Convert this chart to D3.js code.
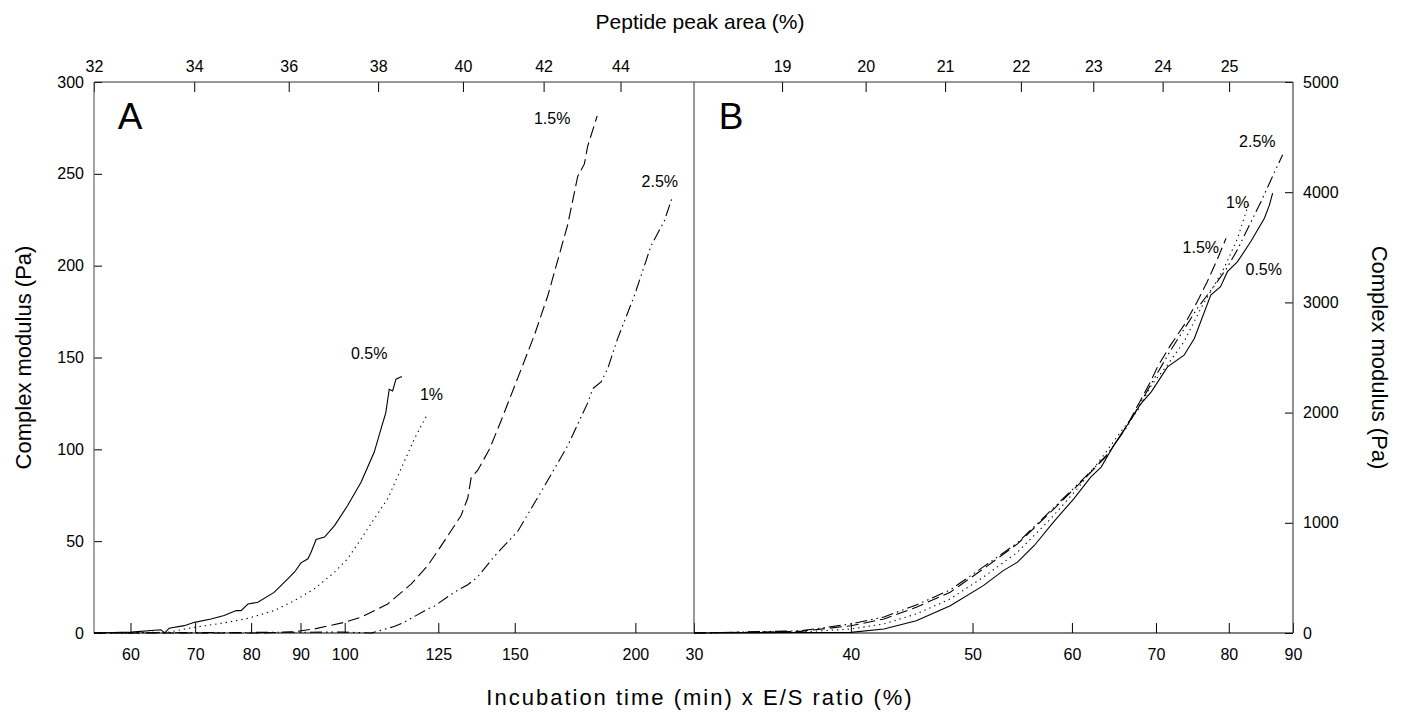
<!DOCTYPE html>
<html>
<head>
<meta charset="utf-8">
<script src="https://cdn.jsdelivr.net/npm/d3@7"></script>
<style>
  html, body { margin: 0; padding: 0; background: #fff; }
  svg { display: block; font-family: "Liberation Sans", Arial, sans-serif; }
</style>
</head>
<body>
<svg id="chart" width="1404" height="715"></svg>
<script>
// ---------- DATA ----------
// Panel A (x: incubation time x E/S ratio, y: complex modulus Pa)
const a05X = [55, 60.1, 64.5, 65.1, 65.8, 68.2, 69.9, 72.7, 75.0, 77.2, 78.1, 79.4, 81.3, 84.5, 87.3, 88.7, 90.1, 91.6, 92.3, 93.4, 95.3, 97.6, 100.7, 104.0, 107.3, 109.0, 110.3, 111.2, 112.1, 113.0, 114.6];
const a05Y = [0, 0.5, 1.8, 0, 2.6, 4.0, 5.8, 7.6, 9.5, 12.2, 12.2, 15.8, 16.7, 22.1, 29.5, 33.1, 38.2, 40.4, 44.0, 50.9, 52.2, 58.5, 69.4, 82.2, 98.5, 110.9, 120.0, 132.7, 131.8, 138.2, 139.6];
const a1X = [55, 65.6, 69.9, 75.6, 79.4, 84.5, 88.7, 93.0, 97.6, 100.7, 104.0, 107.3, 110.8, 114.4, 118.1, 121.9];
const a1Y = [0, 0.4, 3.1, 5.8, 8.0, 12.2, 17.6, 24.0, 33.1, 40.4, 51.3, 62.2, 73.1, 89.5, 105.8, 119.5];
const a15X = [55, 82, 88.7, 93.0, 99.9, 104.0, 110.8, 117.2, 121.9, 125.9, 132.0, 134.1, 135.2, 137.3, 141.2, 145.2, 151.1, 157.2, 162.3, 166.2, 170.2, 174.3, 177.1, 178.5, 182.6];
const a15Y = [0, 0, 0.7, 2.2, 5.8, 8.6, 15.8, 26.7, 36.7, 47.6, 64.0, 73.5, 84.6, 88.5, 100.0, 115.6, 138.9, 162.2, 183.6, 203.0, 222.4, 248.6, 255.4, 265.1, 281.6];
const a25X = [55, 99.5, 106.5, 112.5, 115.3, 121.9, 123.8, 129.9, 134.1, 137.3, 142.9, 151.1, 159.7, 170.2, 178.5, 180.7, 184.3, 187.2, 191.7, 199.5, 207.6, 214.3, 218.6];
const a25Y = [0, 0.5, 0, 3.5, 5.9, 13.1, 14.6, 22.2, 26.3, 30.5, 41.8, 55.4, 76.8, 102.0, 125.3, 133.1, 136.7, 143.9, 160.3, 183.6, 210.8, 224.4, 237.9];

// Panel B
const b05X = [30, 36.5, 40.0, 42.5, 45.1, 48.0, 51.0, 52.9, 54.3, 56.0, 58.0, 60.2, 62.1, 63.3, 64.8, 66.4, 68.1, 69.4, 71.5, 73.7, 75.1, 77.4, 78.8, 79.8, 81.3, 83.3, 85.4, 86.2, 86.7];
const b05Y = [0, 5, 6, 36, 112, 248, 430, 566, 643, 794, 1006, 1218, 1415, 1506, 1703, 1885, 2082, 2188, 2415, 2521, 2673, 3066, 3143, 3279, 3370, 3552, 3764, 3885, 3991];
const b1X = [30, 36.5, 40.0, 42.5, 45.1, 48.0, 51.0, 54.3, 57.7, 60.6, 63.3, 65.6, 67.7, 69.4, 71.3, 73.7, 76.0, 77.9, 79.3, 81.3, 83.0];
const b1Y = [0, 10, 36, 82, 173, 309, 506, 734, 1036, 1309, 1582, 1825, 2021, 2248, 2415, 2643, 2945, 3157, 3309, 3582, 3900];
const b15X = [30, 36.5, 40.0, 42.5, 45.1, 48.0, 51.0, 54.3, 57.7, 61.4, 64.0, 66.4, 69.4, 70.2, 71.9, 73.7, 75.5, 76.9, 78.4, 79.6];
const b15Y = [0, 15, 66, 127, 234, 370, 582, 809, 1097, 1400, 1612, 1885, 2294, 2415, 2612, 2794, 3006, 3188, 3400, 3582];
const b25X = [30, 36.5, 40.0, 42.5, 45.1, 48.0, 51.0, 54.3, 57.7, 61.4, 64.0, 66.4, 69.4, 71.9, 75.5, 77.9, 79.6, 81.3, 83.0, 84.9, 86.7, 88.3];
const b25Y = [0, 20, 82, 145, 255, 391, 600, 818, 1109, 1409, 1618, 1873, 2264, 2564, 2945, 3150, 3300, 3480, 3690, 3918, 4145, 4339];

// Tick labels
const aBottomTicks = [60, 70, 80, 90, 100, 125, 150, 200];
const aTopTicks = [32, 34, 36, 38, 40, 42, 44];
const bBottomTicks = [30, 40, 50, 60, 70, 80, 90];
const bTopTicks = [19, 20, 21, 22, 23, 24, 25];
const aYTicks = [0, 50, 100, 150, 200, 250, 300];
const bYTicks = [0, 1000, 2000, 3000, 4000, 5000];

// Series labels
const seriesNames = ["0.5%", "1%", "1.5%", "2.5%"];

// ---------- LAYOUT ----------
const svg = d3.select("#chart");
const L = 94, M = 694, R = 1293, T = 82, B = 633;

const xA = d3.scaleLog().domain([55, 230]).range([L, M]);
const xAtop = d3.scaleLog().domain([32, 46]).range([L, M]);
const xB = d3.scaleLog().domain([30, 90]).range([M, R]);
const xBtop = d3.scaleLog().domain([18, 26]).range([M, R]);
const yA = d3.scaleLinear().domain([0, 300]).range([B, T]);
const yB = d3.scaleLinear().domain([0, 5000]).range([B, T]);

const fmt = d3.format("d");
const FS = 16;

function styleAxis(g) {
  g.select(".domain").remove();
  g.selectAll(".tick line").attr("stroke", "#000").attr("stroke-width", 1);
  g.selectAll(".tick text").attr("font-size", FS).attr("fill", "#000")
    .attr("font-family", "'Liberation Sans', Arial, sans-serif");
}

// Axes
svg.append("g").attr("transform", `translate(${L},0)`)
  .call(d3.axisLeft(yA).tickValues(aYTicks).tickFormat(fmt).tickSize(-8).tickPadding(10))
  .call(styleAxis);
svg.append("g").attr("transform", `translate(${R},0)`)
  .call(d3.axisRight(yB).tickValues(bYTicks).tickFormat(fmt).tickSize(-8).tickPadding(10))
  .call(styleAxis);
svg.append("g").attr("transform", `translate(0,${B})`)
  .call(d3.axisBottom(xA).tickValues(aBottomTicks).tickFormat(fmt).tickSize(-10).tickPadding(16))
  .call(styleAxis);
svg.append("g").attr("transform", `translate(0,${B})`)
  .call(d3.axisBottom(xB).tickValues(bBottomTicks).tickFormat(fmt).tickSize(-10).tickPadding(16))
  .call(styleAxis);
svg.append("g").attr("transform", `translate(0,${T})`)
  .call(d3.axisTop(xAtop).tickValues(aTopTicks).tickFormat(fmt).tickSize(-10).tickPadding(10))
  .call(styleAxis);
svg.append("g").attr("transform", `translate(0,${T})`)
  .call(d3.axisTop(xBtop).tickValues(bTopTicks).tickFormat(fmt).tickSize(-10).tickPadding(10))
  .call(styleAxis);

// Frame
const frame = svg.append("g").attr("stroke", "#333").attr("stroke-width", 1.2).attr("fill", "none");
frame.append("line").attr("x1", L).attr("x2", R).attr("y1", T).attr("y2", T);
frame.append("line").attr("x1", L).attr("x2", R).attr("y1", B).attr("y2", B).attr("stroke", "#000");
frame.append("line").attr("x1", L).attr("x2", L).attr("y1", T).attr("y2", B).attr("stroke", "#666");
frame.append("line").attr("x1", M).attr("x2", M).attr("y1", T).attr("y2", B).attr("stroke", "#555");
frame.append("line").attr("x1", R).attr("x2", R).attr("y1", T).attr("y2", B).attr("stroke", "#444");

// Lines
const dashes = ["none", "1.3,4", "12,5", "12,4,1.5,4,1.5,4"];
function drawSeries(xs, ys, xsc, ysc, dash) {
  const pts = xs.map((x, i) => [x, ys[i]]);
  const line = d3.line().x(d => xsc(d[0])).y(d => ysc(d[1]));
  svg.append("path").datum(pts)
    .attr("d", line)
    .attr("fill", "none")
    .attr("stroke", "#000")
    .attr("stroke-width", 1.1)
    .attr("stroke-dasharray", dash);
}
drawSeries(a05X, a05Y, xA, yA, dashes[0]);
drawSeries(a1X, a1Y, xA, yA, dashes[1]);
drawSeries(a15X, a15Y, xA, yA, dashes[2]);
drawSeries(a25X, a25Y, xA, yA, dashes[3]);
drawSeries(b05X, b05Y, xB, yB, dashes[0]);
drawSeries(b1X, b1Y, xB, yB, dashes[1]);
drawSeries(b15X, b15Y, xB, yB, dashes[2]);
drawSeries(b25X, b25Y, xB, yB, dashes[3]);

// Series labels (anchored to data coordinates)
const labelsA = [
  {t: seriesNames[0], x: 106, y: 152, anchor: "middle"},
  {t: seriesNames[1], x: 123, y: 130, anchor: "middle"},
  {t: seriesNames[2], x: 164, y: 280, anchor: "middle"},
  {t: seriesNames[3], x: 212, y: 246, anchor: "middle"}
];
const labelsB = [
  {t: seriesNames[3], x: 84.3, y: 4460, anchor: "middle"},
  {t: seriesNames[1], x: 81.3, y: 3910, anchor: "middle"},
  {t: seriesNames[2], x: 76.0, y: 3500, anchor: "middle"},
  {t: seriesNames[0], x: 85.3, y: 3300, anchor: "middle"}
];
labelsA.forEach(d => svg.append("text").attr("x", xA(d.x)).attr("y", yA(d.y))
  .attr("text-anchor", d.anchor).attr("font-size", FS).attr("dy", "0.35em").text(d.t));
labelsB.forEach(d => svg.append("text").attr("x", xB(d.x)).attr("y", yB(d.y))
  .attr("text-anchor", d.anchor).attr("font-size", FS).attr("dy", "0.35em").text(d.t));

// Panel letters
svg.append("text").attr("x", 130).attr("y", 129).attr("text-anchor", "middle")
  .attr("font-size", 37).text("A");
svg.append("text").attr("x", 731).attr("y", 129).attr("text-anchor", "middle")
  .attr("font-size", 37).text("B");

// Axis titles
svg.append("text").attr("x", 700).attr("y", 22).attr("text-anchor", "middle")
  .attr("font-size", 21).attr("dy", "0.35em").text("Peptide peak area (%)");
svg.append("text").attr("x", 700).attr("y", 697).attr("text-anchor", "middle")
  .attr("font-size", 22).attr("letter-spacing", 2).attr("dy", "0.35em")
  .text("Incubation time (min) x E/S ratio (%)");
svg.append("text").attr("transform", `translate(23,${(T + B) / 2}) rotate(-90)`)
  .attr("text-anchor", "middle").attr("font-size", 22).attr("dy", "0.35em").text("Complex modulus (Pa)");
svg.append("text").attr("transform", `translate(1380,${(T + B) / 2}) rotate(90)`)
  .attr("text-anchor", "middle").attr("font-size", 22).attr("dy", "0.35em").text("Complex modulus (Pa)");
</script>
</body>
</html>
